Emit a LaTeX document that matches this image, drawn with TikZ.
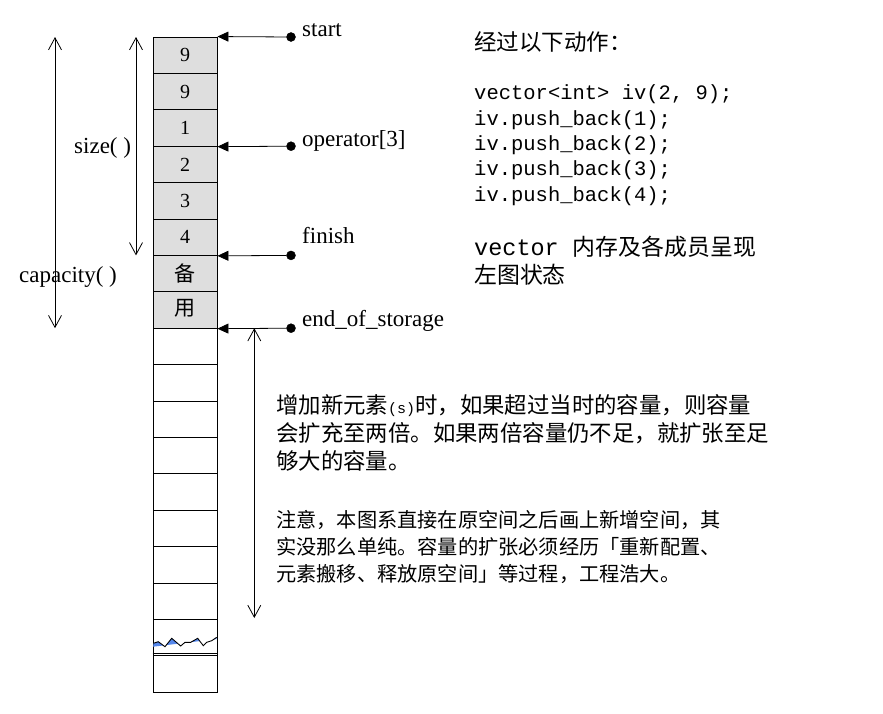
\documentclass[tikz,border=0pt]{standalone}
\usepackage{fontspec}
\setmainfont{Liberation Serif}
\setmonofont{Liberation Mono}
\newfontfamily\cjk{Noto Sans CJK SC}
\usetikzlibrary{positioning,arrows.meta}
\definecolor{usedgray}{RGB}{222,222,222}
\definecolor{wavefill}{RGB}{85,135,235}

\begin{document}
\begin{tikzpicture}[x=1pt,y=-1pt]
      \tikzstyle{cell} = [draw, line width=0.9pt, minimum width=64pt,
      minimum height=36.4pt, inner sep=0pt, font=\fontsize{20}{20}\selectfont]
      \tikzstyle{used} = [cell, fill=usedgray]
      \tikzstyle{circ} = [circle, minimum width=9pt, inner sep=0pt, draw, fill]
      \tikzstyle{lbl} = [anchor=west, inner sep=0pt, font=\fontsize{23}{23}\selectfont]
      \tikzstyle{ptr} = [line width=0.8pt, -{Triangle[length=11pt,width=10pt]}]
      \tikzstyle{sizearrow} = [line width=0.8pt,
      {Straight Barb[length=12pt,width=13pt]}-{Straight Barb[length=12pt,width=13pt]}]
      \tikzstyle{txt} = [anchor=base west, align=left, inner sep=0pt]
      \useasboundingbox (0,0) rectangle (883,713);
      % MEMORY
      \node[used] (c1) at (185,55.2) {9}; \node[used] (c2) at (185,91.6) {9};
      \node[used] (c3) at (185,128.0) {1}; \node[used] (c4) at (185,164.4) {2};
      \node[used] (c5) at (185,200.8) {3}; \node[used] (c6) at (185,237.2) {4};
      \node[used, font=\cjk\fontsize{21}{21}\selectfont] (c7) at (185,273.6) {备};
      \node[used, font=\cjk\fontsize{21}{21}\selectfont] (c8) at (185,310.0) {\raisebox{5pt}{用}};
      \node[cell] (c9) at (185,346.4) {}; \node[cell] (c10) at (185,382.8) {};
      \node[cell] (c11) at (185,419.2) {}; \node[cell] (c12) at (185,455.6) {};
      \node[cell] (c13) at (185,492.0) {}; \node[cell] (c14) at (185,528.4) {};
      \node[cell] (c15) at (185,564.8) {}; \node[cell] (c16) at (185,601.2) {};
      \node[cell] (c17) at (185,637.6) {}; \node[cell] (c18) at (185,674.0) {};
      % BREAK
      \begin{scope}
        \clip (153.3,643.3) -- (158.3,641.7) -- (165,646.7) -- (171.7,638.3)
        -- (180.7,646) -- (185,642.3) -- (190.7,642.3) -- (197.7,638.3)
        -- (203.3,645.7) -- (206.7,642.3) -- (211.7,640.7) -- (216.7,637.3)
        -- (217,656) -- (153,656) -- cycle;
        \fill[wavefill] (153,646.7) -- (217,639) -- (217,619) -- (153,619) -- cycle;
      \end{scope}
      \draw[line width=0.9pt] (153.3,643.3) -- (158.3,641.7) -- (165,646.7)
      -- (171.7,638.3) -- (180.7,646) -- (185,642.3) -- (190.7,642.3)
      -- (197.7,638.3) -- (203.3,645.7) -- (206.7,642.3) -- (211.7,640.7)
      -- (216.7,637.3);
      \draw[line width=0.9pt] ([yshift=2.5pt]c17.south west) -- ([yshift=2.5pt]c17.south east);
      % POINTERS
      \node[circ] (pstart) at (291,37) {}; \node[circ] (pop) at (291,146.2) {};
      \node[circ] (pfinish) at (291,255.4) {}; \node[circ] (pend) at (291,328.2) {};
      \draw[ptr] (pstart) -- (c1.north east);
      \draw[ptr] (pop) -- (c3.south east);
      \draw[ptr] (pfinish) -- (c6.south east);
      \draw[ptr] (pend) -- (c8.south east);
      \node[lbl] (lstart) at (302,30) {start};
      \node[lbl] (lop) at (302,141) {operator[3]};
      \node[lbl] (lfinish) at (302,236) {finish};
      \node[lbl] (lend) at (302,321) {end\_of\_storage};
      % SIZES
      \coordinate (stop) at (136,37); \coordinate (sbot) at (136,255.4);
      \coordinate (ctop) at (55,37); \coordinate (cbot) at (55,328.2);
      \coordinate (etop) at (254.3,328.2); \coordinate (ebot) at (254.3,618);
      \draw[sizearrow] (stop) -- (sbot);
      \draw[sizearrow] (ctop) -- (cbot);
      \draw[sizearrow] (etop) -- (ebot);
      \node[lbl] (lsize) at (74,148) {size( )};
      \node[lbl] (lcap) at (19,277) {capacity( )};
      % NOTES (base = last line)
      \node[txt, font=\cjk\fontsize{22.5}{28}\selectfont] (title) at (474,50) {经过以下动作：};
      \node[txt, font=\ttfamily\fontsize{20.5}{25.3}\selectfont] (code) at (474,201)
      {vector<int> iv(2, 9);\\iv.push\_back(1);\\iv.push\_back(2);\\iv.push\_back(3);\\iv.push\_back(4);};
      \node[txt, font=\cjk\fontsize{22.9}{28}\selectfont] (state) at (474,283)
      {{\ttfamily\fontsize{23.5}{28}\selectfont vector }内存及各成员呈现\\左图状态};
      \node[txt, font=\cjk\fontsize{22.4}{28}\selectfont] (grow) at (276,469)
      {增加新元素{\ttfamily\fontsize{15}{15}\selectfont (s)}时，如果超过当时的容量，则容量\\会扩充至两倍。如果两倍容量仍不足，就扩张至足\\够大的容量。};
      \node[txt, font=\cjk\fontsize{20.2}{27}\selectfont] (note) at (276,581)
      {注意，本图系直接在原空间之后画上新增空间，其\\实没那么单纯。容量的扩张必须经历「重新配置、\\元素搬移、释放原空间」等过程，工程浩大。};
\end{tikzpicture}
\end{document}
